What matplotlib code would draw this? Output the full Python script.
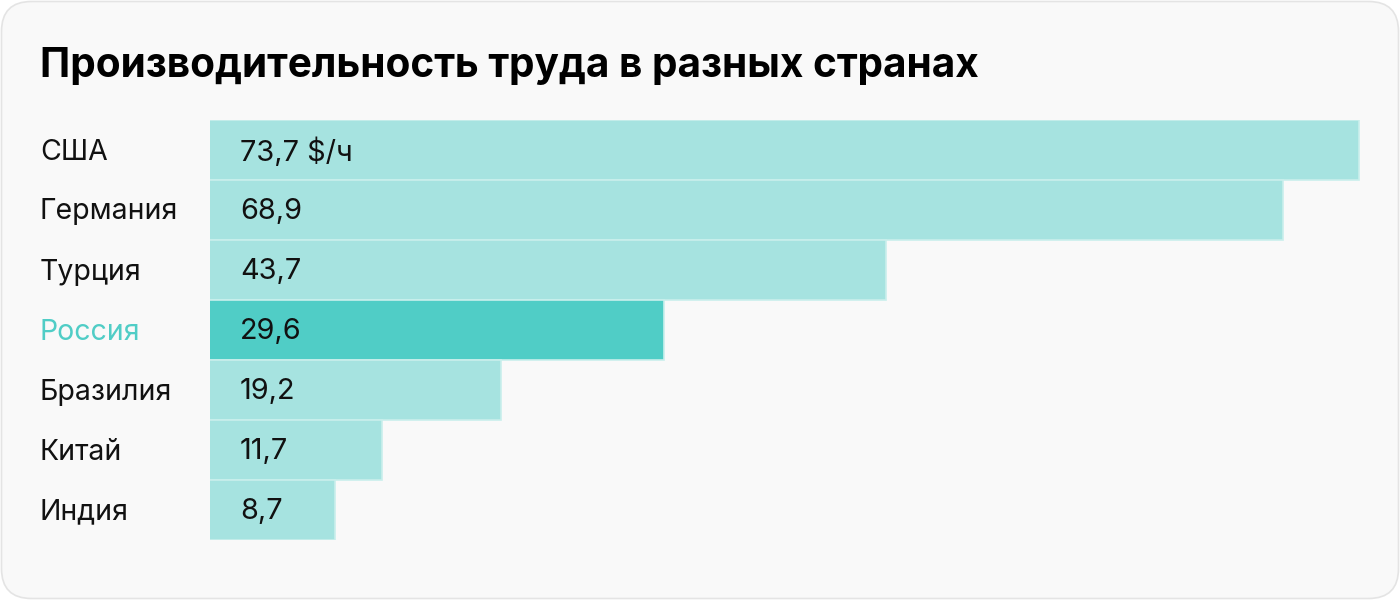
import matplotlib as mpl
from matplotlib import pyplot as plt
from matplotlib.patches import FancyBboxPatch

mpl.rcParams['font.family'] = ['Inter', 'DejaVu Sans']

countries = ['США', 'Германия', 'Турция', 'Россия', 'Бразилия', 'Китай', 'Индия']
values = [73.7, 68.9, 43.7, 29.6, 19.2, 11.7, 8.7]
value_labels = ['73,7 $/ч', '68,9', '43,7', '29,6', '19,2', '11,7', '8,7']
highlight = 'Россия'

light = '#a6e3e0'
dark = '#50cdc6'

W, H = 1400, 600
fig = plt.figure(figsize=(14, 6), dpi=100)
fig.patch.set_facecolor('white')

# card background
card = FancyBboxPatch((1.5 / W, 1.5 / H), (W - 3) / W, (H - 3) / H,
                      boxstyle='round,pad=0,rounding_size=%f' % (30 / W),
                      transform=fig.transFigure, facecolor='#f9f9f9',
                      edgecolor='#e4e4e4', linewidth=1.2,
                      mutation_aspect=W / H, zorder=-5)
fig.patches.append(card)

fig.text(40 / W, 1 - 66 / H, 'Производительность труда в разных странах',
         fontsize=29.2, fontweight='bold', color='#000000', va='center', ha='left')

# axes: bars region from x=210 to 1360, y=120 to 540
ax = fig.add_axes([210 / W, 1 - 540 / H, 1150 / W, 420 / H])
ax.set_facecolor('none')
ax.set_xlim(0.75, 0.75 + 1150 / 15.75)
ax.set_ylim(len(countries) - 0.5, -0.5)
ax.axis('off')

for i, (c, v, lab) in enumerate(zip(countries, values, value_labels)):
    col = dark if c == highlight else light
    ax.barh(i, v, height=1.0, left=0, color=col, edgecolor='#c9efec', linewidth=1.2)
    ax.text(0.75 + 30 / 15.75, i + 0.03, lab, fontsize=20.8, va='center', ha='left', color='#111111')
    fig.text(40 / W, 1 - (152 + 60 * i) / H, c, fontsize=20.5, va='center', ha='left',
             color=dark if c == highlight else '#111111')

plt.savefig('out.png', dpi=100, facecolor='white')
